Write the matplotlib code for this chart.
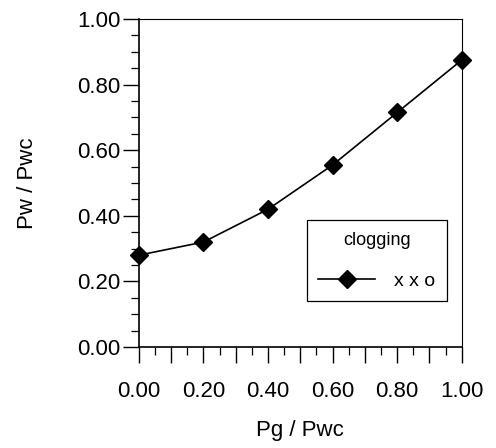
import numpy as np
import matplotlib
matplotlib.use("Agg")
import matplotlib.pyplot as plt
from matplotlib.ticker import MultipleLocator

plt.rcParams['font.family'] = ['Liberation Sans', 'DejaVu Sans']

# data
pg_pwc = [0.0, 0.2, 0.4, 0.6, 0.8, 1.0]
pw_pwc = [0.28, 0.32, 0.42, 0.555, 0.715, 0.875]
series_label = "x x o"
legend_title = "clogging"

fig = plt.figure(figsize=(4.96, 4.48), dpi=100)
ax = fig.add_axes([0.280, 0.2254, 0.651, 0.7322])

ax.plot(pg_pwc, pw_pwc, color="k", lw=1.2, marker="D", ms=9,
        mfc="k", mec="k", label=series_label, clip_on=False, zorder=5)

ax.set_xlim(0.0, 1.0)
ax.set_ylim(0.0, 1.0)
# x: long ticks every 0.1 (labels on 0.2), short every 0.05
ax.xaxis.set_major_locator(MultipleLocator(0.1))
ax.xaxis.set_minor_locator(MultipleLocator(0.05))
ax.xaxis.set_major_formatter(
    lambda v, p: "%.2f" % v if abs(round(v * 10)) % 2 == 0 else "")
ax.yaxis.set_major_locator(MultipleLocator(0.2))
ax.yaxis.set_minor_locator(MultipleLocator(0.05))
ax.yaxis.set_major_formatter(lambda v, p: "%.2f" % v)

ax.tick_params(which="major", direction="out", length=11.5, width=1.0,
               labelsize=16)
ax.tick_params(axis="y", which="major", pad=2)
ax.tick_params(axis="x", which="major", pad=13)
ax.tick_params(which="minor", direction="out", length=5.5, width=0.9)

ax.spines["left"].set_linewidth(1.2)
ax.spines["bottom"].set_linewidth(1.2)
ax.spines["top"].set_linewidth(0.8)
ax.spines["right"].set_linewidth(0.8)

ax.set_xlabel("Pg / Pwc", fontsize=16, labelpad=13)
ax.set_ylabel("Pw / Pwc", fontsize=16, labelpad=28)

leg = ax.legend(loc="upper left", bbox_to_anchor=(0.52, 0.387),
                borderaxespad=0.0, title=legend_title, fontsize=14,
                title_fontsize=13, fancybox=False, edgecolor="k",
                framealpha=1.0, handlelength=2.9, borderpad=0.6,
                labelspacing=1.2, handletextpad=1.0)
leg.get_frame().set_linewidth(0.9)

fig.savefig("out.png", dpi=100)
